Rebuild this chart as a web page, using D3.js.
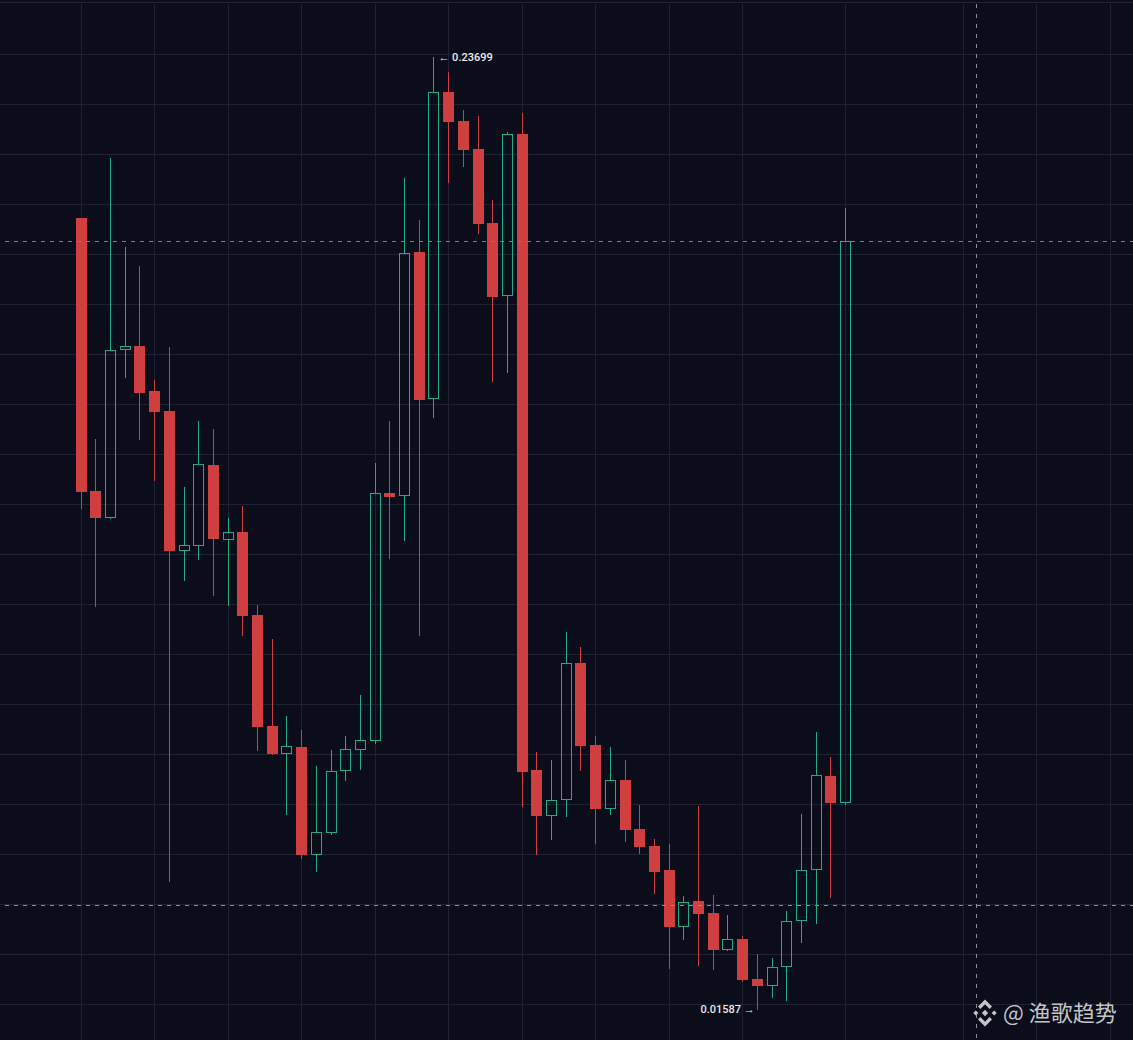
<!DOCTYPE html>
<html lang="en">
    <head>
        <meta charset="utf-8">
        <title> candles </title>
        <script src="https://d3js.org/d3.v7.min.js"></script>
        <style type="text/css">
            body { margin: 0; background: #0b0e1a; }
            svg { display: block; }
        </style>
    </head>
    <body>
        <script type="text/javascript">

// size of the picture
var w = 1133;
var h = 1040;

// candle data, one value per candle, oldest first
var open = [0.19968, 0.13630, 0.13003, 0.16903, 0.16996, 0.15951, 0.15487, 0.12236, 0.12352, 0.14233,
            0.12492, 0.12678, 0.10751, 0.08174, 0.07523, 0.07686, 0.05179, 0.05689, 0.07129, 0.07616,
            0.07825, 0.13583, 0.13513, 0.19178, 0.15765, 0.22893, 0.22220, 0.21570, 0.19852, 0.18157,
            0.21918, 0.07152, 0.06084, 0.06455, 0.09636, 0.07732, 0.06246, 0.06920, 0.05782, 0.05387,
            0.04830, 0.03507, 0.04111, 0.03832, 0.02973, 0.03228, 0.02300, 0.02137, 0.02578, 0.03646,
            0.04830, 0.07013, 0.06386];

var high = [0.19968, 0.14837, 0.21361, 0.19294, 0.18853, 0.16207, 0.16973, 0.13722, 0.15255, 0.15069,
            0.13003, 0.13281, 0.10983, 0.10193, 0.08406, 0.08081, 0.07245, 0.07616, 0.07941, 0.08893,
            0.14280, 0.15255, 0.20896, 0.19921, 0.23699, 0.23357, 0.22475, 0.22336, 0.20386, 0.21964,
            0.22406, 0.07570, 0.07384, 0.10356, 0.10008, 0.07941, 0.07686, 0.07384, 0.06339, 0.05550,
            0.05434, 0.04227, 0.06316, 0.04250, 0.03785, 0.03298, 0.02880, 0.02787, 0.03878, 0.06130,
            0.08034, 0.07454, 0.20200];

var low = [0.13212, 0.10936, 0.12979, 0.16253, 0.14814, 0.13862, 0.04552, 0.11540, 0.12028, 0.11192,
           0.10960, 0.10263, 0.07593, 0.07500, 0.06107, 0.05086, 0.04784, 0.05643, 0.06897, 0.07152,
           0.07756, 0.12051, 0.12469, 0.10263, 0.15324, 0.20780, 0.21152, 0.19596, 0.16160, 0.16369,
           0.06293, 0.05179, 0.05527, 0.06061, 0.07129, 0.05434, 0.06107, 0.05480, 0.05202, 0.04273,
           0.02532, 0.03205, 0.02601, 0.02509, 0.02950, 0.02230, 0.01587, 0.01858, 0.01789, 0.03135,
           0.03577, 0.04180, 0.06339];

var close = [0.13606, 0.13003, 0.16903, 0.16996, 0.15905, 0.15464, 0.12236, 0.12376, 0.14256, 0.12515,
             0.12678, 0.10727, 0.08150, 0.07523, 0.07709, 0.05179, 0.05713, 0.07129, 0.07640, 0.07848,
             0.13583, 0.13490, 0.19155, 0.15742, 0.22893, 0.22196, 0.21546, 0.19828, 0.18134, 0.21918,
             0.07106, 0.06084, 0.06455, 0.09636, 0.07709, 0.06246, 0.06920, 0.05759, 0.05364, 0.04784,
             0.03507, 0.04087, 0.03809, 0.02973, 0.03228, 0.02276, 0.02137, 0.02578, 0.03646, 0.04830,
             0.07036, 0.06386, 0.19434];

// candle slots where the time axis puts a grid line
var timeTicks = [0, 5, 10, 15, 20, 25, 30, 35, 40, 45, 52, 60, 65, 70];

// crosshair of the mouse (slot, price)
var crossSlot = 60.9;
var crossPrice = 0.04011;

var watermark = "@ 渔歌趋势";

var candles = open.map(function(d, i){
	return {i: i, open: d, high: high[i], low: low[i], close: close[i]};
});

var up = "#20aa86";
var down = "#cf3f40";
var bodyW = 11;

// scalers
var xScale = d3.scaleLinear()
               .domain([0, open.length - 1])
               .range([80.6, 845]);

var yScale = d3.scaleLinear()
               .domain([d3.min(low), d3.max(high)])
               .range([1009.7, 57.3]);

var svg = d3.select("body")
            .append("svg")
            .attr("width", w)
            .attr("height", h);

svg.append("rect")
   .attr("width", w).attr("height", h)
   .attr("fill", "#0b0e1a");

// grid
var grid = svg.append("g")
              .attr("stroke", "#1e2234")
              .attr("stroke-width", 1)
              .attr("shape-rendering", "crispEdges");

grid.selectAll("line.h")
    .data(d3.range(54, h, 50))
    .enter()
    .append("line")
    .attr("class", "h")
    .attr("x1", 0).attr("x2", w)
    .attr("y1", function(d){ return d + 0.5; })
    .attr("y2", function(d){ return d + 0.5; });

grid.append("line")
    .attr("x1", 0).attr("x2", w)
    .attr("y1", 2.5).attr("y2", 2.5);

grid.selectAll("line.v")
    .data(timeTicks)
    .enter()
    .append("line")
    .attr("class", "v")
    .attr("x1", function(d){ return Math.round(xScale(d)) + 0.5; })
    .attr("x2", function(d){ return Math.round(xScale(d)) + 0.5; })
    .attr("y1", 4).attr("y2", h);

// candles
var cx = function(d){ return Math.round(xScale(d.i)) + 0.5; };
var bodyTop = function(d){ return Math.round(yScale(Math.max(d.open, d.close))); };
var bodyBot = function(d){ return Math.round(yScale(Math.min(d.open, d.close))); };
var colour = function(d){ return d.close >= d.open ? up : down; };

var g = svg.append("g").attr("shape-rendering", "crispEdges");

// upper wicks
g.selectAll("line.hi")
 .data(candles)
 .enter()
 .append("line")
 .attr("class", "hi")
 .attr("x1", cx).attr("x2", cx)
 .attr("y1", function(d){ return yScale(d.high); })
 .attr("y2", bodyTop)
 .attr("stroke", colour);

// lower wicks
g.selectAll("line.lo")
 .data(candles)
 .enter()
 .append("line")
 .attr("class", "lo")
 .attr("x1", cx).attr("x2", cx)
 .attr("y1", bodyBot)
 .attr("y2", function(d){ return yScale(d.low); })
 .attr("stroke", colour);

// falling candles are filled
g.selectAll("rect.dn")
 .data(candles.filter(function(d){ return d.close < d.open; }))
 .enter()
 .append("rect")
 .attr("class", "dn")
 .attr("x", function(d){ return cx(d) - 0.5 - Math.floor(bodyW / 2); })
 .attr("y", bodyTop)
 .attr("width", bodyW)
 .attr("height", function(d){ return Math.max(2, bodyBot(d) - bodyTop(d)); })
 .attr("fill", down);

// rising candles are hollow
g.selectAll("rect.up")
 .data(candles.filter(function(d){ return d.close >= d.open; }))
 .enter()
 .append("rect")
 .attr("class", "up")
 .attr("x", function(d){ return cx(d) - Math.floor(bodyW / 2); })
 .attr("y", function(d){ return bodyTop(d) + 0.5; })
 .attr("width", bodyW - 1)
 .attr("height", function(d){ return Math.max(1, bodyBot(d) - bodyTop(d) - 1); })
 .attr("fill", "none")
 .attr("stroke", up);

// last price line
var last = candles[candles.length - 1];
svg.append("line")
   .attr("x1", 5).attr("x2", w)
   .attr("y1", Math.round(yScale(last.close)) + 0.5)
   .attr("y2", Math.round(yScale(last.close)) + 0.5)
   .attr("stroke", "#22a893")
   .attr("stroke-width", 1.2)
   .attr("stroke-dasharray", "4 5");

// crosshair
svg.append("line")
   .attr("x1", 5).attr("x2", w)
   .attr("y1", Math.round(yScale(crossPrice)) + 0.5)
   .attr("y2", Math.round(yScale(crossPrice)) + 0.5)
   .attr("stroke", "#8b8e9b")
   .attr("stroke-dasharray", "4 5");

svg.append("line")
   .attr("x1", Math.round(xScale(crossSlot)) + 0.5)
   .attr("x2", Math.round(xScale(crossSlot)) + 0.5)
   .attr("y1", 4).attr("y2", h)
   .attr("stroke", "#8b8e9b")
   .attr("stroke-dasharray", "4 6");

// highest and lowest labels
var hiIdx = d3.maxIndex(high);
var loIdx = d3.minIndex(low);

svg.append("text")
   .attr("x", xScale(hiIdx) + 5)
   .attr("y", yScale(high[hiIdx]) + 3.5)
   .attr("font-family", "Roboto, sans-serif")
   .attr("font-size", "11px")
   .attr("font-weight", 500)
   .attr("fill", "#eaeaea")
   .text("\u2190 " + high[hiIdx].toFixed(5));

svg.append("text")
   .attr("x", xScale(loIdx) - 2)
   .attr("y", yScale(low[loIdx]) + 3.5)
   .attr("text-anchor", "end")
   .attr("font-family", "Roboto, sans-serif")
   .attr("font-size", "11px")
   .attr("font-weight", 500)
   .attr("fill", "#eaeaea")
   .text(low[loIdx].toFixed(5) + " \u2192");

// watermark
var mark = svg.append("g")
              .attr("transform", "translate(985,1013)")
              .attr("fill", "#c4c5c9");

mark.append("path")
    .attr("d", "M0,-13.5 L7,-6.5 L4.6,-4.1 L0,-8.7 L-4.6,-4.1 L-7,-6.5 Z" +
               "M0,13.5 L7,6.5 L4.6,4.1 L0,8.7 L-4.6,4.1 L-7,6.5 Z" +
               "M0,-3.2 L3.2,0 L0,3.2 L-3.2,0 Z" +
               "M9.2,-2.6 L11.8,0 L9.2,2.6 L6.6,0 Z" +
               "M-9.2,-2.6 L-6.6,0 L-9.2,2.6 L-11.8,0 Z");

svg.append("text")
   .attr("x", 1003)
   .attr("y", 1021)
   .attr("font-family", "'Noto Sans CJK SC', 'Noto Sans', sans-serif")
   .attr("font-size", "22px")
   .attr("fill", "#c4c5c9")
   .text(watermark);

        </script>
    </body>
</html>
